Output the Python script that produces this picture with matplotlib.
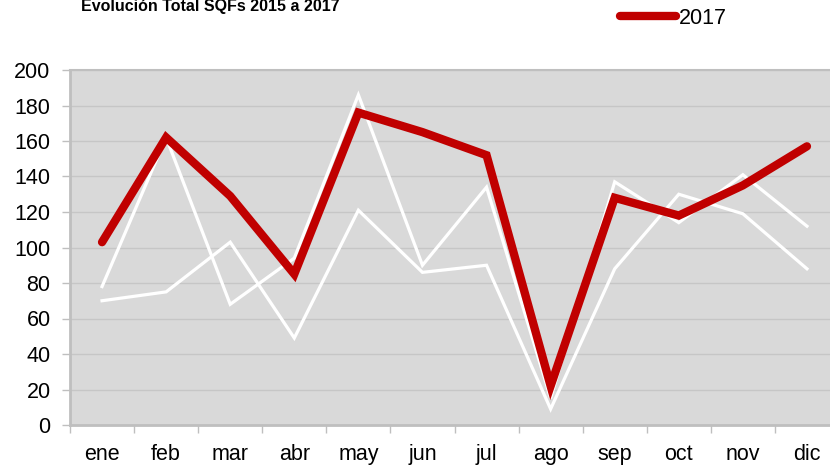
import matplotlib
matplotlib.use("Agg")
import matplotlib.pyplot as plt
from matplotlib.ticker import FixedLocator

months = ["ene", "feb", "mar", "abr", "may", "jun",
          "jul", "ago", "sep", "oct", "nov", "dic"]
serie_a = [78, 162, 68, 94, 186, 90, 134, 15, 137, 114, 141, 112]
serie_b = [70, 75, 103, 49, 121, 86, 90, 9, 88, 130, 119, 88]
serie_2017 = [103, 162, 129, 85, 176, 165, 152, 22, 128, 118, 135, 157]

RED = "#C00000"
PLOT_BG = "#D9D9D9"
GRID = "#C6C6C6"
AXIS = "#BFBFBF"

plt.rcParams["font.family"] = ["Liberation Sans", "DejaVu Sans"]

fig = plt.figure(figsize=(8.3, 4.66), dpi=100)
ax = fig.add_axes([70 / 830, 41 / 466, 769 / 830, 355 / 466])
ax.set_facecolor(PLOT_BG)

x = list(range(len(months)))
ax.plot(x, serie_a, color="white", linewidth=2.3, solid_joinstyle="miter", zorder=3)
ax.plot(x, serie_b, color="white", linewidth=2.3, solid_joinstyle="miter", zorder=3)
line17, = ax.plot(x, serie_2017, color=RED, linewidth=6, solid_capstyle="round",
                  solid_joinstyle="miter", zorder=4, label="2017")

ax.set_xlim(-0.5, 11.5)
ax.set_ylim(0, 200)
ax.set_yticks(range(0, 201, 20))
ax.set_xticks(x)
ax.set_xticklabels(months)
ax.xaxis.set_minor_locator(FixedLocator([i - 0.5 for i in range(13)]))
ax.tick_params(axis="x", which="major", length=0, pad=14, labelsize=15.5)
ax.tick_params(axis="x", which="minor", length=6, width=1, color=AXIS)
ax.tick_params(axis="y", length=6, width=1, color=AXIS, pad=8, labelsize=15.5)

ax.grid(axis="y", color=GRID, linewidth=1)
ax.set_axisbelow(True)
ax.spines["right"].set_visible(False)
ax.spines["top"].set_color(AXIS)
ax.spines["top"].set_linewidth(1.5)
for side in ["left", "bottom"]:
    ax.spines[side].set_color(AXIS)
    ax.spines[side].set_linewidth(2)

# title is partly cut at the top edge, as in the source image
fig.text(210 / 830, 1 - 11 / 466, "Evolución Total SQFs 2015 a 2017",
         ha="center", va="baseline", fontsize=11.5, fontweight="bold")

fig.legend(handles=[line17], loc="center left", bbox_to_anchor=(620 / 830, 1 - 18 / 466),
           frameon=False, fontsize=15.5, handlelength=2.6, handletextpad=0.15,
           borderaxespad=0, borderpad=0)

fig.savefig("out.png", dpi=100)
